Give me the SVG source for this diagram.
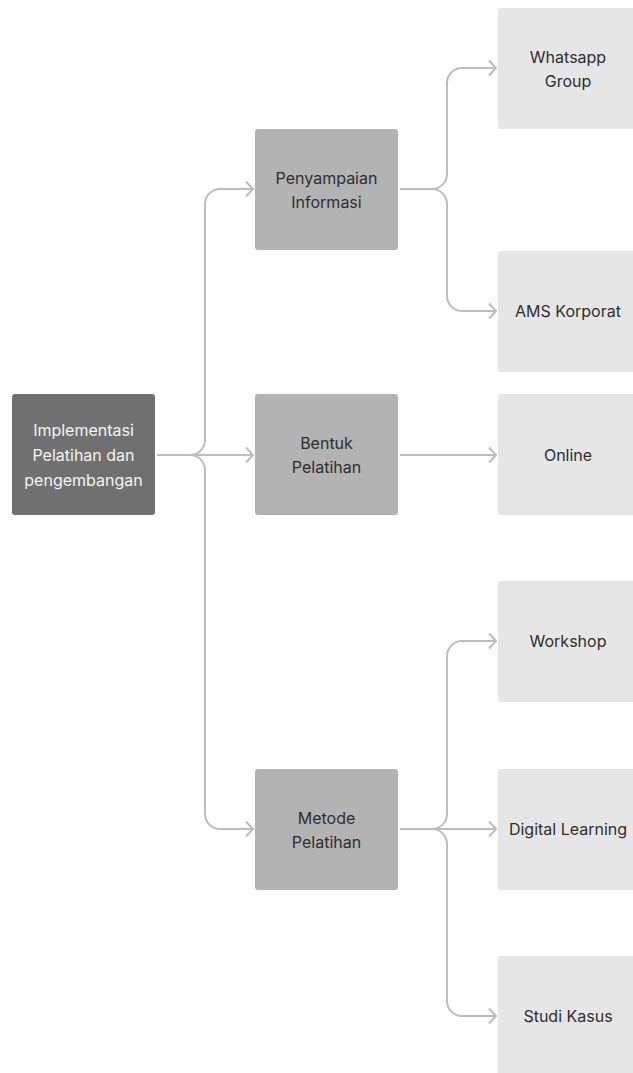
<svg xmlns="http://www.w3.org/2000/svg" width="633" height="1073" viewBox="0 0 633 1073">
<style>
.root{fill:#707070}
.mid{fill:#b3b3b3}
.leaf{fill:#e6e6e6}
text{font-family:Inter,"Noto Sans","Liberation Sans",sans-serif;font-size:16px;text-anchor:middle;dominant-baseline:central;fill:#2e2e2e}
.wt{fill:#f4f4f4}
.c{fill:none;stroke:#bdbdbd;stroke-width:2}
</style>
<defs>
<marker id="ah" markerUnits="userSpaceOnUse" markerWidth="20" markerHeight="20" refX="10" refY="10" orient="auto">
<polyline points="3,2.5 10,10 3,17.5" fill="none" stroke="#bdbdbd" stroke-width="2"/>
</marker>
</defs>
<g id="connectors">
<path class="c" marker-end="url(#ah)" d="M157 455 H190 A15 15 0 0 0 205 440 V204 A15 15 0 0 1 220 189 H253"/>
<path class="c" marker-end="url(#ah)" d="M157 455 H253"/>
<path class="c" marker-end="url(#ah)" d="M157 455 H190 A15 15 0 0 1 205 470 V814 A15 15 0 0 0 220 829 H253"/>
<path class="c" marker-end="url(#ah)" d="M400 189 H432 A15 15 0 0 0 447 174 V83 A15 15 0 0 1 462 68 H496"/>
<path class="c" marker-end="url(#ah)" d="M400 189 H432 A15 15 0 0 1 447 204 V296 A15 15 0 0 0 462 311 H496"/>
<path class="c" marker-end="url(#ah)" d="M400 455 H496"/>
<path class="c" marker-end="url(#ah)" d="M400 829 H432 A15 15 0 0 0 447 814 V656 A15 15 0 0 1 462 641 H496"/>
<path class="c" marker-end="url(#ah)" d="M400 829 H496"/>
<path class="c" marker-end="url(#ah)" d="M400 829 H432 A15 15 0 0 1 447 844 V1001 A15 15 0 0 0 462 1016 H496"/>
</g>
<g id="root">
<rect class="root" x="12" y="394" width="143" height="121" rx="3"/>
<text class="wt" x="83.5" y="430">Implementasi</text>
<text class="wt" x="83.5" y="455">Pelatihan dan</text>
<text class="wt" x="83.5" y="480">pengembangan</text>
</g>
<g id="penyampaian">
<rect class="mid" x="255" y="129" width="143" height="121" rx="3"/>
<text x="326.5" y="178">Penyampaian</text>
<text x="326.5" y="202">Informasi</text>
</g>
<g id="bentuk">
<rect class="mid" x="255" y="394" width="143" height="121" rx="3"/>
<text x="326.5" y="443">Bentuk</text>
<text x="326.5" y="467">Pelatihan</text>
</g>
<g id="metode">
<rect class="mid" x="255" y="769" width="143" height="121" rx="3"/>
<text x="326.5" y="818">Metode</text>
<text x="326.5" y="842">Pelatihan</text>
</g>
<g id="whatsapp">
<rect class="leaf" x="498" y="8" width="143" height="121" rx="3"/>
<text x="568" y="57">Whatsapp</text>
<text x="568" y="81">Group</text>
</g>
<g id="ams">
<rect class="leaf" x="498" y="251" width="143" height="121" rx="3"/>
<text x="568" y="311">AMS Korporat</text>
</g>
<g id="online">
<rect class="leaf" x="498" y="394" width="143" height="121" rx="3"/>
<text x="568" y="455">Online</text>
</g>
<g id="workshop">
<rect class="leaf" x="498" y="581" width="143" height="121" rx="3"/>
<text x="568" y="641">Workshop</text>
</g>
<g id="digital">
<rect class="leaf" x="498" y="769" width="143" height="121" rx="3"/>
<text x="568" y="829">Digital Learning</text>
</g>
<g id="studi">
<rect class="leaf" x="498" y="956" width="143" height="121" rx="3"/>
<text x="568" y="1016">Studi Kasus</text>
</g>
</svg>
